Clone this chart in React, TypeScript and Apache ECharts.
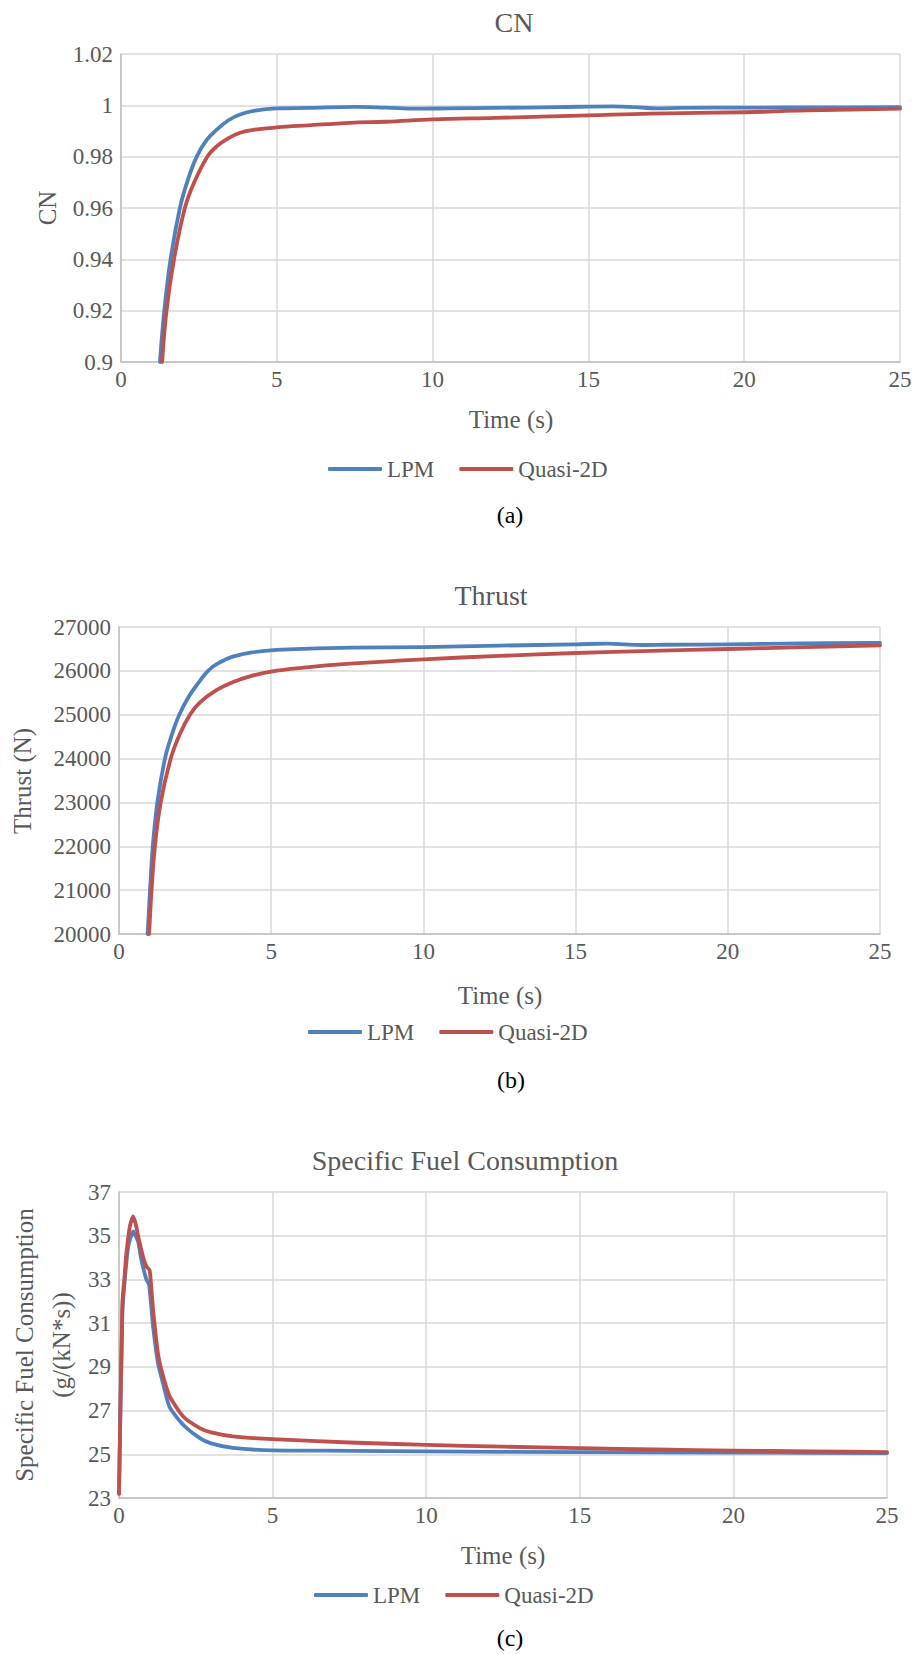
import React, { useEffect, useRef } from "react";
import * as echarts from "echarts";

// ---------- DATA ----------
const SERIES_NAMES = ["LPM", "Quasi-2D"];
const PANEL_TITLES = ["CN", "Thrust", "Specific Fuel Consumption"];
const Y_NAMES = ["CN", "Thrust (N)", "Specific Fuel Consumption\n(g/(kN*s))"];
const X_NAME = "Time (s)";
const CAPTIONS = ["(a)", "(b)", "(c)"];

// (a) CN
const CN_LPM_T = [1.25, 1.39, 1.59, 1.89, 2.12, 2.43, 2.75, 3.07, 3.45, 3.82, 4.3, 5, 6, 7.5, 8.5, 9.5, 10.5, 12, 14, 15.8, 16.5, 17.2, 18, 20, 22.5, 25];
const CN_LPM_V = [0.9, 0.92, 0.94, 0.96, 0.97, 0.98, 0.9865, 0.9905, 0.9942, 0.9964, 0.9979, 0.9988, 0.999, 0.9994, 0.9991, 0.9987, 0.9988, 0.999, 0.9993, 0.9996, 0.9993, 0.9988, 0.999, 0.9991, 0.9992, 0.9993];
const CN_Q2D_T = [1.32, 1.46, 1.7, 2.05, 2.35, 2.77, 3.07, 3.45, 3.82, 4.3, 5, 6, 7.35, 8.5, 10, 12, 15, 17, 20, 22, 25];
const CN_Q2D_V = [0.9, 0.92, 0.94, 0.96, 0.97, 0.98, 0.984, 0.9872, 0.9893, 0.9905, 0.9914, 0.9922, 0.9932, 0.9936, 0.9945, 0.9951, 0.9961, 0.9968, 0.9973, 0.998, 0.9987];

// (b) Thrust
const TH_LPM_T = [0.94, 1.02, 1.11, 1.26, 1.51, 1.73, 1.98, 2.3, 2.6, 2.86, 3.05, 3.2, 3.5, 3.77, 4.32, 5, 6, 7.6, 10, 12.5, 15, 16, 17.2, 18, 20, 22.5, 25];
const TH_LPM_V = [20000, 21000, 22000, 23000, 24000, 24530, 25000, 25420, 25720, 25950, 26080, 26150, 26260, 26330, 26415, 26468, 26500, 26530, 26543, 26575, 26605, 26620, 26590, 26595, 26605, 26625, 26640];
const TH_Q2D_T = [0.99, 1.07, 1.18, 1.37, 1.7, 2.0, 2.33, 2.66, 3.2, 3.77, 4.3, 5, 6, 7.6, 10, 12.5, 15, 17.5, 20, 22.5, 25];
const TH_Q2D_V = [20000, 21000, 22000, 23000, 24000, 24560, 25000, 25280, 25560, 25750, 25875, 25985, 26070, 26164, 26263, 26340, 26407, 26455, 26498, 26540, 26582];

// (c) Specific fuel consumption
const SFC_LPM_T = [0, 0.11, 0.19, 0.3, 0.46, 0.62, 0.73, 0.89, 0.98, 1.11, 1.27, 1.43, 1.65, 2.09, 2.63, 3, 3.71, 5, 7.5, 10, 15, 20, 25];
const SFC_LPM_V = [23.2, 31.5, 33.0, 34.5, 35.2, 34.74, 33.9, 33.0, 32.76, 30.85, 29.17, 28.26, 27.15, 26.35, 25.74, 25.5, 25.29, 25.18, 25.16, 25.13, 25.1, 25.08, 25.05];
const SFC_Q2D_T = [0, 0.11, 0.19, 0.24, 0.35, 0.46, 0.55, 0.62, 0.78, 0.89, 1.0, 1.11, 1.27, 1.43, 1.65, 2.09, 2.63, 3, 3.71, 5, 7.5, 10, 12.5, 15, 17.5, 20, 22.5, 25];
const SFC_Q2D_V = [23.2, 31.9, 33.3, 34.2, 35.4, 35.88, 35.5, 35.0, 34.05, 33.6, 33.4, 31.6, 29.6, 28.6, 27.65, 26.73, 26.2, 26.0, 25.82, 25.69, 25.54, 25.43, 25.35, 25.28, 25.22, 25.17, 25.13, 25.1];

// axis ranges / ticks
const X_RANGE = [0, 25, 5];
const CN_RANGE = [0.9, 1.02, 0.02];
const TH_RANGE = [20000, 27000, 1000];
const SFC_RANGE = [23, 37, 2];

// ---------- STYLE ----------
const FONT = '"Liberation Serif", "Times New Roman", Times, serif';
const GREY = "#595959";
const COLORS = ["#4F81BD", "#C0504D"];

const GRIDS = [
  { left: 121, top: 54, width: 779, height: 308 },
  { left: 119, top: 627, width: 761, height: 307 },
  { left: 119, top: 1192, width: 768, height: 306 },
];

const zip = (t: number[], v: number[], off = 0) => t.map((x, i) => [x, +(v[i] - off).toFixed(6)]);

export default function App() {
  const ref = useRef<HTMLDivElement>(null);

  useEffect(() => {
    if (!ref.current) return;
    const chart = echarts.init(ref.current, undefined, { renderer: "svg" });

    const xAxis = GRIDS.map((_, i) => ({
      type: "value",
      gridIndex: i,
      min: X_RANGE[0],
      max: X_RANGE[1],
      interval: X_RANGE[2],
      axisLine: { show: true, lineStyle: { color: "#BFBFBF", width: 1.5 } },
      axisTick: { show: false },
      axisLabel: { color: GREY, fontFamily: FONT, fontSize: 23, margin: 6, formatter: (v: number) => String(v) },
      splitLine: { show: true, lineStyle: { color: "#D9D9D9", width: 1.5 } },
    }));

    const yBase = {
      type: "value",
      axisLine: { show: true, lineStyle: { color: "#BFBFBF", width: 1.5 } },
      axisTick: { show: false },
      splitLine: { show: true, lineStyle: { color: "#D9D9D9", width: 1.5 } },
    };
    const yLabel = { color: GREY, fontFamily: FONT, fontSize: 23, margin: 8 };
    const yAxis = [
      {
        ...yBase,
        gridIndex: 0,
        min: CN_RANGE[0],
        max: CN_RANGE[1],
        interval: CN_RANGE[2],
        axisLabel: { ...yLabel, formatter: (v: number) => String(+v.toFixed(2)) },
      },
      {
        ...yBase,
        gridIndex: 1,
        min: TH_RANGE[0],
        max: TH_RANGE[1],
        interval: TH_RANGE[2],
        axisLabel: { ...yLabel, formatter: (v: number) => String(Math.round(v)) },
      },
      {
        // offset so that ticks are counted from 0 (multiple of interval)
        ...yBase,
        gridIndex: 2,
        min: 0,
        max: SFC_RANGE[1] - SFC_RANGE[0],
        interval: SFC_RANGE[2],
        axisLabel: { ...yLabel, formatter: (v: number) => String(Math.round(v + SFC_RANGE[0])) },
      },
    ];

    const mk = (name: string, idx: number, color: string, data: number[][], smooth: number) => ({
      name,
      type: "line",
      xAxisIndex: idx,
      yAxisIndex: idx,
      data,
      showSymbol: false,
      symbol: "none",
      smooth,
      color,
      lineStyle: { color, width: 3.8, cap: "round", join: "round" },
      z: name === SERIES_NAMES[1] ? 3 : 2,
    });

    const series = [
      mk(SERIES_NAMES[0], 0, COLORS[0], zip(CN_LPM_T, CN_LPM_V), 0.4),
      mk(SERIES_NAMES[1], 0, COLORS[1], zip(CN_Q2D_T, CN_Q2D_V), 0.4),
      mk(SERIES_NAMES[0], 1, COLORS[0], zip(TH_LPM_T, TH_LPM_V), 0.4),
      mk(SERIES_NAMES[1], 1, COLORS[1], zip(TH_Q2D_T, TH_Q2D_V), 0.4),
      mk(SERIES_NAMES[0], 2, COLORS[0], zip(SFC_LPM_T, SFC_LPM_V, SFC_RANGE[0]), 0.2),
      mk(SERIES_NAMES[1], 2, COLORS[1], zip(SFC_Q2D_T, SFC_Q2D_V, SFC_RANGE[0]), 0.2),
    ];

    const legendPos = [
      { left: 328, top: 457 },
      { left: 308, top: 1020 },
      { left: 314, top: 1583 },
    ];
    const legend = legendPos.map((p) => ({
      ...p,
      orient: "horizontal",
      padding: 0,
      data: SERIES_NAMES,
      icon: "roundRect",
      itemWidth: 54,
      itemHeight: 4,
      itemGap: 25,
      selectedMode: false,
      textStyle: { color: GREY, fontFamily: FONT, fontSize: 23, lineHeight: 24 },
    }));

    const txt = (text: string, x: number, y: number, size: number, fill = GREY, rotation = 0) => ({
      type: "text",
      x,
      y,
      rotation,
      silent: true,
      style: { text, fontFamily: FONT, fontSize: size, fill, align: "center", verticalAlign: "middle", lineHeight: 37 },
    });

    const graphic = [
      txt(PANEL_TITLES[0], 514, 22, 28),
      txt(PANEL_TITLES[1], 491, 595, 28),
      txt(PANEL_TITLES[2], 465, 1160, 28),
      txt(Y_NAMES[0], 47, 208, 25, GREY, Math.PI / 2),
      txt(Y_NAMES[1], 22, 781, 25, GREY, Math.PI / 2),
      txt(Y_NAMES[2], 43, 1345, 25, GREY, Math.PI / 2),
      txt(X_NAME, 511, 419, 25),
      txt(X_NAME, 500, 995, 25),
      txt(X_NAME, 503, 1555, 25),
      txt(CAPTIONS[0], 510, 515, 24, "#000"),
      txt(CAPTIONS[1], 511, 1080, 24, "#000"),
      txt(CAPTIONS[2], 510, 1638, 24, "#000"),
    ];

    chart.setOption({
      animation: false,
      backgroundColor: "#ffffff",
      textStyle: { fontFamily: FONT },
      grid: GRIDS.map((g) => ({ ...g, containLabel: false })),
      xAxis,
      yAxis,
      legend,
      series,
      graphic,
    });

    return () => chart.dispose();
  }, []);

  return (
    <div
      ref={ref}
      style={{ position: "absolute", left: 0, top: 0, width: 917, height: 1654, background: "#fff" }}
    />
  );
}
